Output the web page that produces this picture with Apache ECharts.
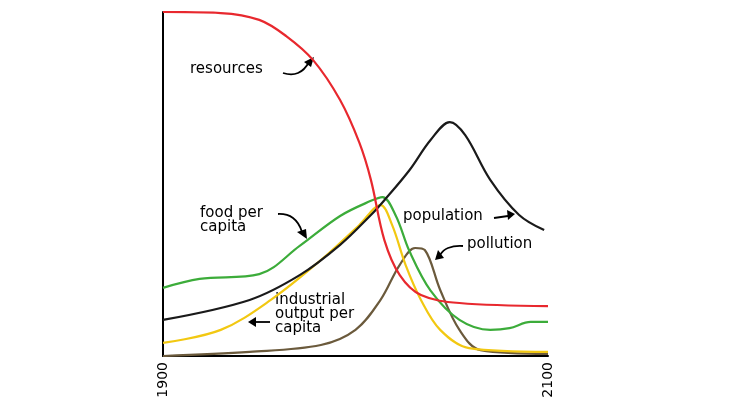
<!DOCTYPE html>
<html><head><meta charset="utf-8">
<script src="https://cdn.jsdelivr.net/npm/echarts@6/dist/echarts.min.js"></script>
<style>body{margin:0;background:#fff}#c{width:750px;height:416px}</style>
</head><body><div id="c"></div>
<script>
// values: [year, level 0..100]
const resources = [[1900,100],[1930,99.7],[1950,97.7],[1964,93],[1978,86],[1992,74.4],[2002,62],[2008,51.2],[2015,33.7],[2023,23.5],[2034,17.7],[2054,15.4],[2100,14.5]];
const population = [[1900,10.5],[1945,16.3],[1971,23.5],[1992,32.3],[2008,41],[2015,45.3],[2028,54],[2039,62.8],[2049,68],[2057,64.2],[2070,51.2],[2085,41],[2098,36.6]];
const food = [[1900,19.8],[1919,22.4],[1950,23.8],[1971,32],[1992,40.7],[2008,45.1],[2014,46.2],[2021,40.7],[2028,30.5],[2039,19],[2054,10.5],[2070,7.6],[2080,8.1],[2091,9.9],[2100,9.9]];
const industrial = [[1900,3.8],[1930,7.6],[1956,16.3],[1982,27.9],[2002,38.1],[2013,43.9],[2019,38.1],[2026,26.5],[2034,16.3],[2044,7.6],[2059,2.3],[2100,1.2]];
const pollution = [[1900,0],[1945,1.2],[1982,3.2],[2000,7.6],[2013,16.3],[2023,26.5],[2031,31.4],[2036,30.8],[2044,19.2],[2054,7.6],[2065,1.7],[2100,0.6]];
const xTicks = [1900, 2100];

const chart = echarts.init(document.getElementById('c'));
const font = 'DejaVu Sans';
function line(name, data, color) {
  return {name, type:'line', data, smooth:0.35, symbol:'none', lineStyle:{color, width:2.2}, z: name==='resources'?5:3};
}
function arrow(pts, head) {
  return [
    {type:'polyline', shape:{points:pts, smooth:0.5}, style:{stroke:'#000', lineWidth:1.8, fill:null}},
    {type:'polygon', shape:{points:head}, style:{fill:'#000'}}
  ];
}
function label(text, x, y) {
  return {type:'text', left:x, top:y, style:{text, font:'15px ' + font, fill:'#000', lineHeight:14}};
}
chart.setOption({
  animation:false,
  grid:{left:163, right:202, top:12, bottom:60},
  xAxis:{type:'value', min:1900, max:2100, interval:200,
    axisLine:{lineStyle:{color:'#000', width:2}}, axisTick:{show:false}, splitLine:{show:false},
    axisLabel:{rotate:90, color:'#000', fontFamily:font, fontSize:14, margin:6,
      formatter:v => xTicks.includes(v) ? String(v) : ''}},
  yAxis:{type:'value', min:0, max:100, axisLine:{show:true, lineStyle:{color:'#000', width:2}},
    axisTick:{show:false}, axisLabel:{show:false}, splitLine:{show:false}},
  series:[
    line('pollution', pollution, '#6b5a3c'),
    line('industrial', industrial, '#f2c811'),
    line('food', food, '#3cac3a'),
    line('population', population, '#1a1a1a'),
    line('resources', resources, '#e8282e')
  ],
  graphic:[
    label('resources', 190, 62),
    label('food per\ncapita', 200, 206),
    label('industrial\noutput per\ncapita', 275, 293),
    label('population', 403, 209),
    label('pollution', 467, 237),
    ...arrow([[283,73],[298,73],[309,62]], [[314,57],[304,62],[311,67]]),
    ...arrow([[278,214],[293,218],[302,232]], [[307,239],[297,232],[306,229]]),
    ...arrow([[270,322],[255,322]], [[248,322],[256,317],[256,327]]),
    ...arrow([[494,218],[508,216]], [[515,214],[507,210],[508,220]]),
    ...arrow([[463,246],[448,248],[440,255]], [[435,260],[438,250],[444,258]])
  ]
});
</script></body></html>
